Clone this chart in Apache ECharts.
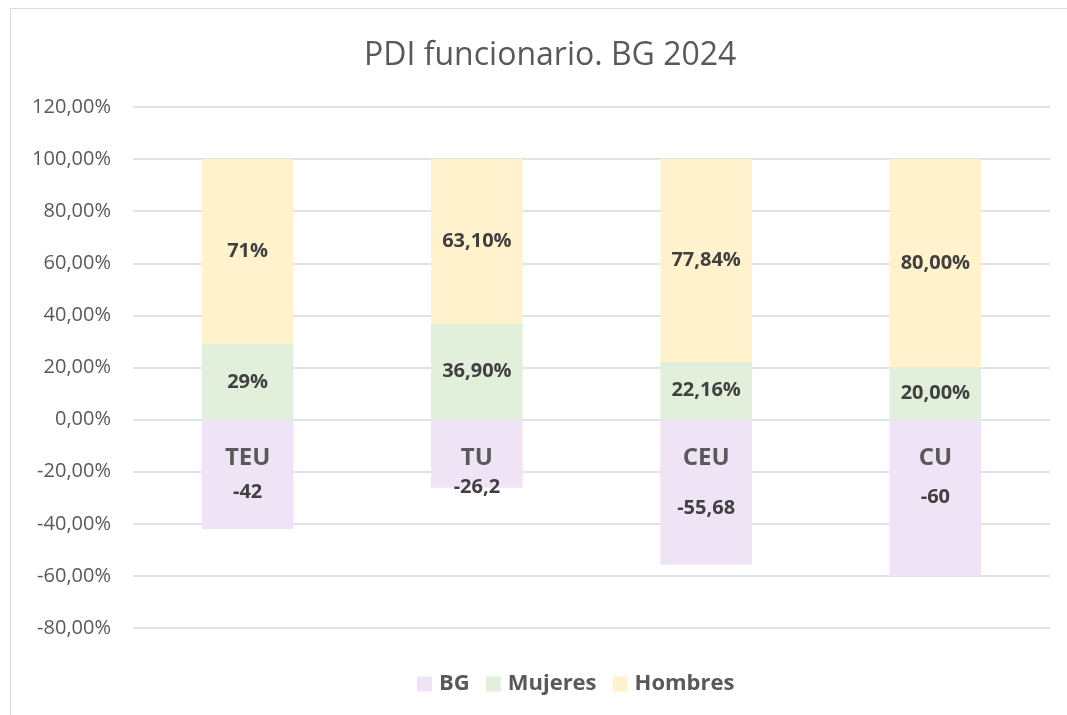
<!DOCTYPE html>
<html>
<head>
<meta charset="utf-8">
<script src="https://cdn.jsdelivr.net/npm/echarts@6/dist/echarts.min.js"></script>
<style>
  html, body { margin: 0; padding: 0; background: #fff; overflow: hidden; }
  #frame { position: absolute; left: 10px; top: 8px; width: 1080px; height: 740px; border: 1.5px solid #d9d9d9; box-sizing: border-box; }
  #chart { position: absolute; left: 0; top: 0; width: 1067px; height: 715px; }
</style>
</head>
<body>
<div id="frame"></div>
<div id="chart"></div>
<script>
// datos
const categorias = ["TEU", "TU", "CEU", "CU"];
const bg = [-42, -26.2, -55.68, -60];
const mujeres = [29, 36.9, 22.16, 20];
const hombres = [71, 63.1, 77.84, 80];
const decimales = [0, 2, 2, 2]; // formato de etiqueta por categoría
const ejeY = { min: -80, max: 120, interval: 20 };

const FONT = "Open Sans";
const GRIS = "#595959";
const OSCURO = "#404040";

// desplazamiento vertical de las etiquetas BG (movidas a mano en el original)
const bgShift = [18, 34, 16, 0];

function pct(v, d) {
  return v.toFixed(d).replace(".", ",") + "%";
}

const myChart = echarts.init(document.getElementById("chart"));

const etiqueta = {
  show: true,
  position: "inside",
  fontFamily: FONT,
  fontSize: 20,
  fontWeight: "bold",
  color: OSCURO,
};

const option = {
  backgroundColor: "transparent",
  animation: false,
  title: {
    text: "PDI funcionario. BG 2024",
    left: 359,
    top: 35,
    textStyle: { fontFamily: FONT, fontSize: 32, fontWeight: "normal", color: GRIS },
  },
  legend: {
    bottom: 15,
    left: 412,
    itemWidth: 15,
    itemHeight: 15,
    itemGap: 16,
    icon: "rect",
    textStyle: { fontFamily: FONT, fontSize: 22, fontWeight: "bold", color: GRIS, padding: [0, 0, 0, 2] },
    data: ["BG", "Mujeres", "Hombres"],
  },
  grid: { left: 133, right: 17, top: 107, bottom: 87 },
  xAxis: {
    type: "category",
    data: categorias,
    z: 5,
    axisLine: { show: false, onZero: false },
    axisTick: { show: false },
    axisLabel: {
      margin: 27,
      fontFamily: FONT,
      fontSize: 24,
      fontWeight: "bold",
      color: GRIS,
    },
  },
  yAxis: {
    type: "value",
    min: ejeY.min,
    max: ejeY.max,
    interval: ejeY.interval,
    axisLine: { show: false },
    axisTick: { show: false },
    splitLine: { lineStyle: { color: "#d9d9d9", width: 1.5 } },
    axisLabel: {
      margin: 22,
      fontFamily: FONT,
      fontSize: 20,
      color: GRIS,
      formatter: (v) => pct(v, 2),
    },
  },
  series: [
    {
      name: "BG",
      type: "bar",
      stack: "total",
      barWidth: "40%",
      itemStyle: { color: "#efe4f6" },
      data: bg.map((v, i) => ({
        value: v,
        label: { offset: [0, bgShift[i]] },
      })),
      label: Object.assign({}, etiqueta, {
        formatter: (p) => String(p.value).replace(".", ","),
      }),
    },
    {
      name: "Mujeres",
      type: "bar",
      stack: "total",
      itemStyle: { color: "#e2efda" },
      data: mujeres,
      label: Object.assign({}, etiqueta, {
        formatter: (p) => pct(p.value, decimales[p.dataIndex]),
      }),
    },
    {
      name: "Hombres",
      type: "bar",
      stack: "total",
      itemStyle: { color: "#fff2cc" },
      data: hombres,
      label: Object.assign({}, etiqueta, {
        formatter: (p) => pct(p.value, decimales[p.dataIndex]),
      }),
    },
  ],
};
myChart.setOption(option);

// el eje de categorías va sobre la línea del 0 (como en Excel)
const yCero = myChart.convertToPixel({ yAxisIndex: 0 }, 0);
const yBase = myChart.convertToPixel({ yAxisIndex: 0 }, ejeY.min);
myChart.setOption({ xAxis: { offset: yCero - yBase } });
</script>
</body>
</html>
